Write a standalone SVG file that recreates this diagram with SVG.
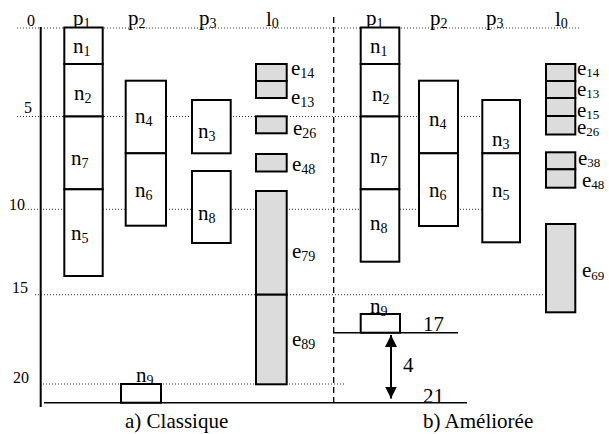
<svg xmlns="http://www.w3.org/2000/svg" width="609" height="434" viewBox="0 0 609 434" font-family="'Liberation Serif', 'Times New Roman', serif">
<style>
text{font-family:'Liberation Serif', 'Times New Roman', serif;fill:#000}
.m{font-size:21px}
.s{font-size:14px}
.s2{font-size:13px}
.ax{font-size:16px}
.box{fill:#fff;stroke:#000;stroke-width:2}
.msg{fill:#dcdcdc;stroke:#000;stroke-width:2}
.dot{stroke:#333;stroke-width:1;stroke-dasharray:1 2;fill:none}
.ln{stroke:#000;fill:none}
</style>
<defs>
<marker id="ah" viewBox="0 0 12 12" refX="12" refY="6" markerWidth="12" markerHeight="12" markerUnits="userSpaceOnUse" orient="auto">
<path d="M0,0 L12,6 L0,12 Z" fill="#000"/>
</marker>
</defs>
<g id="grid">
<line class="dot" x1="17" y1="28" x2="580" y2="28"/>
<line class="dot" x1="17" y1="116.5" x2="482" y2="116.5"/>
<line class="dot" x1="25" y1="209.3" x2="482" y2="209.3"/>
<line class="dot" x1="35" y1="294.7" x2="545" y2="294.7"/>
<line class="dot" x1="40" y1="384" x2="345" y2="384"/>
<line class="ln" x1="40.7" y1="27" x2="40.7" y2="407" stroke-width="2"/>
<line class="ln" x1="44" y1="402.7" x2="467" y2="402.7" stroke-width="1.5"/>
<line class="ln" x1="333.7" y1="17" x2="333.7" y2="406" stroke-width="1.3" stroke-dasharray="6 4"/>
<line class="ln" x1="333" y1="332.7" x2="458" y2="332.7" stroke-width="1.5"/>
<text class="ax" x="27" y="26">0</text>
<text class="ax" x="24" y="113">5</text>
<text class="ax" x="9" y="210">10</text>
<text class="ax" x="12" y="293">15</text>
<text class="ax" x="13" y="383">20</text>
</g>
<g id="headers">
<text class="m" x="73" y="25">p<tspan class="s" dy="3">1</tspan></text>
<text class="m" x="128" y="25">p<tspan class="s" dy="3">2</tspan></text>
<text class="m" x="199" y="25">p<tspan class="s" dy="3">3</tspan></text>
<text class="m" x="266" y="26">l<tspan class="s" dy="2">0</tspan></text>
<text class="m" x="366" y="25">p<tspan class="s" dy="3">1</tspan></text>
<text class="m" x="430" y="25">p<tspan class="s" dy="3">2</tspan></text>
<text class="m" x="486" y="25">p<tspan class="s" dy="3">3</tspan></text>
<text class="m" x="555" y="26">l<tspan class="s" dy="2">0</tspan></text>
</g>
<g id="classique">
<g id="a-n1"><rect class="box" x="64.3" y="27.5" width="38.4" height="36.5"/><text class="m" x="73" y="53">n<tspan class="s" dy="3">1</tspan></text></g>
<g id="a-n2"><rect class="box" x="64.3" y="64" width="38.4" height="52.5"/><text class="m" x="74" y="100">n<tspan class="s" dy="3">2</tspan></text></g>
<g id="a-n7"><rect class="box" x="64.3" y="116.5" width="38.4" height="72.8"/><text class="m" x="71" y="165">n<tspan class="s" dy="3">7</tspan></text></g>
<g id="a-n5"><rect class="box" x="64.3" y="189.3" width="38.4" height="86.7"/><text class="m" x="71" y="240">n<tspan class="s" dy="3">5</tspan></text></g>
<g id="a-n4"><rect class="box" x="125.7" y="80.7" width="40.3" height="72.6"/><text class="m" x="135" y="123">n<tspan class="s" dy="3">4</tspan></text></g>
<g id="a-n6"><rect class="box" x="125.7" y="153.3" width="40.3" height="72.4"/><text class="m" x="135" y="197">n<tspan class="s" dy="3">6</tspan></text></g>
<g id="a-n3"><rect class="box" x="192" y="100" width="38.7" height="53.3"/><text class="m" x="198" y="138">n<tspan class="s" dy="3">3</tspan></text></g>
<g id="a-n8"><rect class="box" x="192" y="171" width="38.7" height="72"/><text class="m" x="198" y="220">n<tspan class="s" dy="3">8</tspan></text></g>
<g id="a-n9"><rect class="box" x="121" y="384" width="40" height="18.7"/><text class="m" x="136" y="382">n<tspan class="s" dy="3">9</tspan></text></g>
<g id="a-e14"><rect class="msg" x="256" y="64" width="30.7" height="17"/><text class="m" x="291" y="75">e<tspan class="s" dy="3">14</tspan></text></g>
<g id="a-e13"><rect class="msg" x="256" y="81" width="30.7" height="17"/><text class="m" x="291" y="104">e<tspan class="s" dy="3">13</tspan></text></g>
<g id="a-e26"><rect class="msg" x="256" y="116.3" width="30.7" height="17"/><text class="m" x="293" y="135">e<tspan class="s" dy="3">26</tspan></text></g>
<g id="a-e48"><rect class="msg" x="256" y="154" width="30.7" height="17.5"/><text class="m" x="292" y="171">e<tspan class="s" dy="3">48</tspan></text></g>
<g id="a-e79"><rect class="msg" x="256" y="191" width="30.7" height="103.7"/><text class="m" x="292" y="258">e<tspan class="s" dy="3">79</tspan></text></g>
<g id="a-e89"><rect class="msg" x="256" y="294.7" width="30.7" height="89.6"/><text class="m" x="292" y="346">e<tspan class="s" dy="3">89</tspan></text></g>
<text class="m" x="125" y="428">a) Classique</text>
</g>
<g id="amelioree">
<g id="b-n1"><rect class="box" x="360.7" y="27.5" width="38.6" height="36.5"/><text class="m" x="370" y="53">n<tspan class="s" dy="3">1</tspan></text></g>
<g id="b-n2"><rect class="box" x="360.7" y="64" width="38.6" height="52.5"/><text class="m" x="372" y="101">n<tspan class="s" dy="3">2</tspan></text></g>
<g id="b-n7"><rect class="box" x="360.7" y="116.5" width="38.6" height="72.8"/><text class="m" x="370" y="163">n<tspan class="s" dy="3">7</tspan></text></g>
<g id="b-n8"><rect class="box" x="360.7" y="189.3" width="38.6" height="72.4"/><text class="m" x="370" y="230">n<tspan class="s" dy="3">8</tspan></text></g>
<g id="b-n4"><rect class="box" x="419" y="80.7" width="39" height="72.6"/><text class="m" x="429" y="126">n<tspan class="s" dy="3">4</tspan></text></g>
<g id="b-n6"><rect class="box" x="419" y="153.3" width="39" height="72.7"/><text class="m" x="429" y="197">n<tspan class="s" dy="3">6</tspan></text></g>
<g id="b-n3"><rect class="box" x="482.3" y="100" width="37.7" height="53.3"/><text class="m" x="492" y="146">n<tspan class="s" dy="3">3</tspan></text></g>
<g id="b-n5"><rect class="box" x="482.3" y="153.3" width="37.7" height="89"/><text class="m" x="492" y="197">n<tspan class="s" dy="3">5</tspan></text></g>
<g id="b-n9"><rect class="box" x="360.7" y="314" width="39.3" height="18.7"/><text class="m" x="370" y="313">n<tspan class="s" dy="3">9</tspan></text></g>
<g id="b-e14"><rect class="msg" x="546" y="64" width="29.3" height="17"/><text class="m" x="577" y="75">e<tspan class="s2" dy="2">14</tspan></text></g>
<g id="b-e13"><rect class="msg" x="546" y="81" width="29.3" height="17"/><text class="m" x="577" y="96">e<tspan class="s2" dy="2">13</tspan></text></g>
<g id="b-e15"><rect class="msg" x="546" y="98" width="29.3" height="18"/><text class="m" x="577" y="117">e<tspan class="s2" dy="2">15</tspan></text></g>
<g id="b-e26"><rect class="msg" x="546" y="116" width="29.3" height="18.5"/><text class="m" x="577" y="134">e<tspan class="s2" dy="2">26</tspan></text></g>
<g id="b-e38"><rect class="msg" x="546" y="152.3" width="29.3" height="17"/><text class="m" x="578" y="165">e<tspan class="s2" dy="2">38</tspan></text></g>
<g id="b-e48"><rect class="msg" x="546" y="169.3" width="29.3" height="18.4"/><text class="m" x="582" y="187">e<tspan class="s2" dy="2">48</tspan></text></g>
<g id="b-e69"><rect class="msg" x="546" y="224" width="29.3" height="88.3"/><text class="m" x="582" y="277">e<tspan class="s2" dy="3">69</tspan></text></g>
<text class="m" x="423" y="331">17</text>
<text class="m" x="403" y="372">4</text>
<text class="m" x="423" y="403">21</text>
<text class="m" x="423" y="428">b) Améliorée</text>
</g>
<g id="connectors">
<line class="ln" x1="391" y1="366" x2="391" y2="335" stroke-width="2" marker-end="url(#ah)"/>
<line class="ln" x1="391" y1="366" x2="391" y2="398.5" stroke-width="2" marker-end="url(#ah)"/>
</g>
</svg>
